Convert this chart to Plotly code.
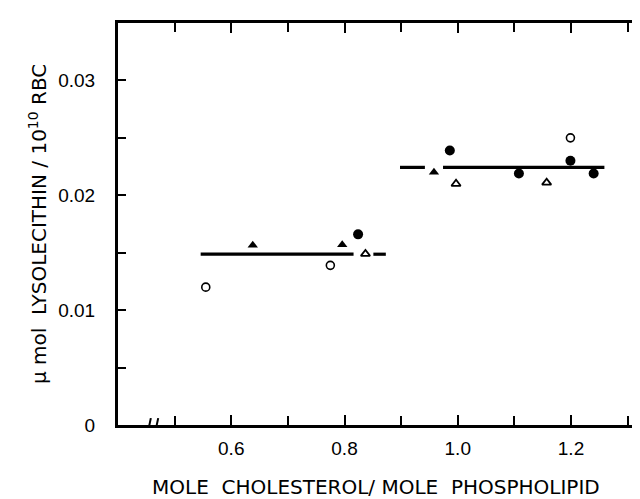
import plotly.graph_objects as go

# ---- data ----
open_circle_x = [0.555, 0.775, 1.199]
open_circle_y = [0.0120, 0.0139, 0.0250]

filled_circle_x = [0.824, 0.986, 1.108, 1.199, 1.240]
filled_circle_y = [0.0166, 0.0239, 0.0219, 0.0230, 0.0219]

filled_tri_x = [0.638, 0.796, 0.958]
filled_tri_y = [0.01565, 0.0157, 0.0220]

open_tri_x = [0.837, 0.997, 1.157]
open_tri_y = [0.0149, 0.0210, 0.0211]

# mean lines (value, segments drawn as start/end pairs)
low_mean = 0.01487
low_segments = [(0.546, 0.816), (0.851, 0.873)]
high_mean = 0.02243
high_segments = [(0.898, 0.942), (0.974, 1.259)]

x_tick_vals = [0.6, 0.8, 1.0, 1.2]
x_tick_text = ["0.6", "0.8", "1.0", "1.2"]
x_minor_vals = [0.5, 0.7, 0.9, 1.1, 1.3]
y_tick_vals = [0, 0.01, 0.02, 0.03]
y_tick_text = ["0", "0.01", "0.02", "0.03"]
y_minor_vals = [0.005, 0.015, 0.025]

FONT = "Liberation Sans"
TFONT = "DejaVu Sans"

fig = go.Figure()

def seg_xy(segments, yval):
    xs, ys = [], []
    for a, b in segments:
        xs += [a, b, None]
        ys += [yval, yval, None]
    return xs, ys

for segs, yv in [(low_segments, low_mean), (high_segments, high_mean)]:
    xs, ys = seg_xy(segs, yv)
    fig.add_trace(go.Scatter(x=xs, y=ys, mode="lines",
                             line=dict(color="black", width=3.2),
                             showlegend=False, hoverinfo="skip"))

fig.add_trace(go.Scatter(x=open_circle_x, y=open_circle_y, mode="markers",
                         marker=dict(symbol="circle-open", size=8, color="black",
                                     line=dict(width=1.6, color="black")),
                         showlegend=False))
fig.add_trace(go.Scatter(x=filled_circle_x, y=filled_circle_y, mode="markers",
                         marker=dict(symbol="circle", size=10, color="black"),
                         showlegend=False))
fig.add_trace(go.Scatter(x=filled_tri_x, y=filled_tri_y, mode="markers",
                         marker=dict(symbol="triangle-up", size=9, color="black"),
                         showlegend=False))
fig.add_trace(go.Scatter(x=open_tri_x, y=open_tri_y, mode="markers",
                         marker=dict(symbol="triangle-up-open", size=8, color="black",
                                     line=dict(width=1.8, color="black")),
                         showlegend=False))

# axis break on the x axis
fig.add_shape(type="rect", xref="x", yref="y", x0=0.452, x1=0.474, y0=-0.0006, y1=0.0006,
              fillcolor="white", line=dict(width=0), layer="above")
for bx in [0.455, 0.468]:
    fig.add_shape(type="line", xref="x", yref="y", x0=bx - 0.003, x1=bx + 0.003,
                  y0=-0.0008, y1=0.0006, line=dict(color="black", width=2), layer="above")

fig.update_layout(
    width=640, height=499,
    margin=dict(l=110, r=0, t=15, b=82),
    paper_bgcolor="white", plot_bgcolor="white",
    font=dict(family=FONT, color="black", size=19),
    xaxis=dict(range=[0.4, 1.336], showgrid=False, zeroline=False,
               showline=True, linecolor="black", linewidth=3, mirror="ticks",
               ticks="inside", ticklen=10, tickwidth=2.2, tickcolor="black",
               tickvals=x_tick_vals, ticktext=x_tick_text, ticklabelstandoff=4,
               minor=dict(tickmode="array", tickvals=x_minor_vals, ticks="inside",
                          ticklen=9, tickwidth=2, tickcolor="black", showgrid=False),
               tickfont=dict(family=FONT, size=19)),
    yaxis=dict(range=[0, 0.035], showgrid=False, zeroline=False,
               showline=True, linecolor="black", linewidth=3,
               ticks="inside", ticklen=8, tickwidth=2.2, tickcolor="black",
               tickvals=y_tick_vals, ticktext=y_tick_text,
               minor=dict(tickmode="array", tickvals=y_minor_vals, ticks="inside",
                          ticklen=8, tickwidth=2, tickcolor="black", showgrid=False),
               tickfont=dict(family=FONT, size=19), ticklabelstandoff=16),
    annotations=[
        dict(text="MOLE  CHOLESTEROL/ MOLE  PHOSPHOLIPID", xref="paper", yref="paper",
             x=0.487, y=0, yshift=-62, xanchor="center", yanchor="middle",
             showarrow=False, font=dict(family=TFONT, size=20)),
        dict(text="μ mol  LYSOLECITHIN / 10<sup>10</sup> RBC", xref="paper", yref="paper",
             x=0, y=0.5, xshift=-80, xanchor="center", yanchor="middle", textangle=-90,
             showarrow=False, font=dict(family=TFONT, size=20)),
    ],
)

fig.write_html("out.html")
